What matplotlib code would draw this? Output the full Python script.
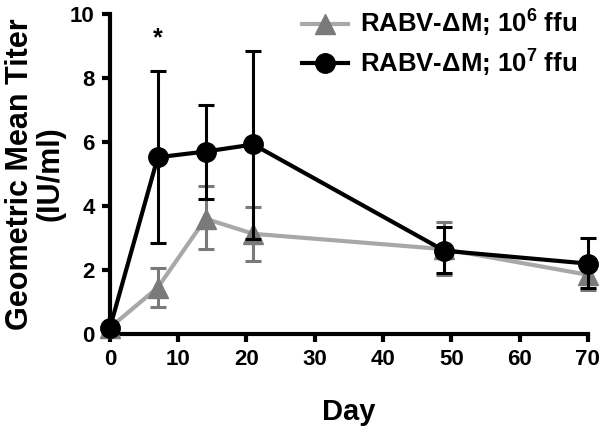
import matplotlib
matplotlib.use("Agg")
import matplotlib.pyplot as plt
from matplotlib.lines import Line2D

plt.rcParams['font.family'] = ['Liberation Sans', 'DejaVu Sans']
plt.rcParams['font.weight'] = 'bold'
plt.rcParams['mathtext.fontset'] = 'custom'
plt.rcParams['mathtext.bf'] = 'Liberation Sans:bold'
plt.rcParams['mathtext.rm'] = 'Liberation Sans:bold'
plt.rcParams['mathtext.default'] = 'bf'

days = [0, 7, 14, 21, 49, 70]
low_mean = [0.2, 1.45, 3.6, 3.13, 2.65, 1.85]
low_upper = [0.2, 2.05, 4.62, 3.98, 3.5, 2.3]
low_lower = [0.2, 0.85, 2.67, 2.28, 1.85, 1.38]
high_mean = [0.2, 5.52, 5.7, 5.92, 2.6, 2.2]
high_upper = [0.2, 8.2, 7.15, 8.85, 3.35, 3.0]
high_lower = [0.2, 2.85, 4.23, 2.97, 1.9, 1.45]
labels = ['RABV-\u0394M; 10$^{6}$ ffu', 'RABV-\u0394M; 10$^{7}$ ffu']
xticks = [0, 10, 20, 30, 40, 50, 60, 70]
yticks = [0, 2, 4, 6, 8, 10]

fig = plt.figure(figsize=(6.01, 4.28), dpi=100)
ax = fig.add_axes([0.183, 0.2196, 0.795, 0.748])

def yerr(m, u, l):
    return [[mm - ll for mm, ll in zip(m, l)], [uu - mm for uu, mm in zip(u, m)]]

ax.errorbar(days, low_mean, yerr=yerr(low_mean, low_upper, low_lower), fmt='none',
            ecolor='#7a7a7a', elinewidth=2.2, capsize=6, capthick=2.2, clip_on=False, zorder=2)
ax.plot(days, low_mean, color='#a8a8a8', lw=3, zorder=3, clip_on=False)
ax.plot(days, low_mean, linestyle='none', marker='^', ms=14, color='#7a7a7a', zorder=4, clip_on=False)

ax.errorbar(days, high_mean, yerr=yerr(high_mean, high_upper, high_lower), fmt='none',
            ecolor='black', elinewidth=2.2, capsize=6, capthick=2.2, clip_on=False, zorder=5)
ax.plot(days, high_mean, color='black', lw=3, marker='o', ms=14, zorder=6, clip_on=False)

ax.text(7, 9.25, '*', ha='center', va='center', fontsize=18, fontweight='bold')

ax.set_xlim(0, 70)
ax.set_ylim(0, 10)
ax.set_xticks(xticks)
ax.set_yticks(yticks)
for s in ['top', 'right']:
    ax.spines[s].set_visible(False)
for s in ['left', 'bottom']:
    ax.spines[s].set_linewidth(3)
ax.tick_params(width=3, length=6, labelsize=16, pad=5)
for t in ax.get_xticklabels() + ax.get_yticklabels():
    t.set_fontweight('bold')

ax.set_xlabel('Day', fontsize=21, fontweight='bold', labelpad=20)
ax.set_ylabel('Geometric Mean Titer\n(IU/ml)', fontsize=22, fontweight='bold', labelpad=3, linespacing=1.05)

handles = [Line2D([], [], color='#a8a8a8', lw=3, marker='^', ms=14, mfc='#7a7a7a', mec='#7a7a7a'),
           Line2D([], [], color='black', lw=3, marker='o', ms=14)]
leg = fig.legend(handles, labels, loc='upper left', bbox_to_anchor=(0.5025, 0.982), frameon=False,
                 borderpad=0, borderaxespad=0,
                 prop={'size': 18.5, 'weight': 'bold'}, handlelength=1.8, handletextpad=0.45, labelspacing=0.33)

fig.savefig('out.png', dpi=100)
